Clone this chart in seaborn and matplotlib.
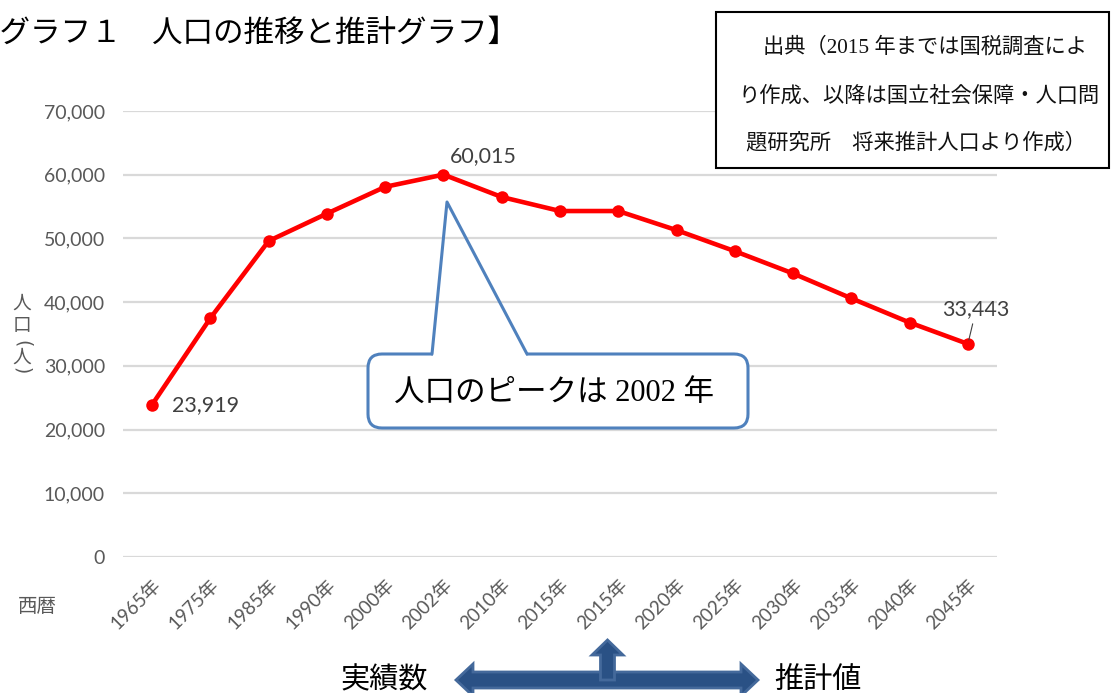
import matplotlib
matplotlib.use("Agg")
import matplotlib.pyplot as plt
import seaborn as sns
import pandas as pd
from matplotlib.patches import FancyBboxPatch, Rectangle, Polygon
from matplotlib.ticker import FuncFormatter

# data
years = ["1965年", "1975年", "1985年", "1990年", "2000年", "2002年", "2010年", "2015年",
         "2015年", "2020年", "2025年", "2030年", "2035年", "2040年", "2045年"]
population = [23919, 37500, 49600, 53900, 58100, 60015, 56500, 54300,
              54300, 51300, 48000, 44500, 40600, 36800, 33443]
y_ticks = [0, 10000, 20000, 30000, 40000, 50000, 60000, 70000]
labeled_points = [0, 5, 14]

title = "【グラフ１　人口の推移と推計グラフ】"
source_lines = ["出典（2015 年までは国税調査によ",
                "り作成、以降は国立社会保障・人口問",
                "題研究所　将来推計人口より作成）"]
callout_text = "人口のピークは 2002 年"

sns.set_theme(style="whitegrid")
plt.rcParams['font.family'] = ['Lato', 'Noto Sans CJK JP']

W, H = 1111, 693
fig = plt.figure(figsize=(W / 100, H / 100), dpi=100)
fig.patch.set_facecolor("white")

ax = fig.add_axes([123 / W, 1 - 557 / H, 874 / W, 446 / H])
ax.set_facecolor("white")

df = pd.DataFrame({"pos": range(len(years)), "population": population})
sns.lineplot(data=df, x="pos", y="population", ax=ax, color="#FF0000", linewidth=3.3,
             marker="o", markersize=9, markeredgecolor="#FF0000", markeredgewidth=0,
             zorder=3)

ax.set_xlim(-0.5, len(years) - 0.5)
ax.set_ylim(y_ticks[0], y_ticks[-1])
ax.set_yticks(y_ticks)
ax.yaxis.set_major_formatter(FuncFormatter(lambda v, p: f"{int(v):,}"))
ax.set_xticks(range(len(years)))
ax.set_xticklabels(years, rotation=45, ha="right", rotation_mode="anchor")
ax.grid(axis="y", color="#d9d9d9", linewidth=1.6)
ax.grid(axis="x", visible=False)
for s in ax.spines.values():
    s.set_visible(False)
ax.tick_params(axis="y", length=0, pad=13, labelsize=14, labelcolor="#595959")
ax.tick_params(axis="x", length=0, pad=14, labelsize=13.5, labelcolor="#595959")
ax.set_xlabel("")
ax.set_ylabel("")

# data labels
offsets = {0: (14, 0, "left", "center"), 5: (29, 13, "center", "center"), 14: (6, 25, "center", "center")}
for i in labeled_points:
    dx, dy, ha, va = offsets[i]
    arrow = dict(arrowstyle="-", color="#404040", lw=0.8, shrinkA=1, shrinkB=3) if i == 14 else None
    ax.annotate(f"{population[i]:,}", xy=(i, population[i]), xytext=(dx, dy),
                textcoords="offset points", ha=ha, va=va, fontsize=15.5,
                color="#404040", arrowprops=arrow)

# overlay for the decorations, in pixel units
ov = fig.add_axes([0, 0, 1, 1])
ov.set_xlim(0, W)
ov.set_ylim(H, 0)
ov.axis("off")
ov.set_zorder(3)

ov.text(518, 33, title, ha="right", va="center", fontsize=22, color="black",
        family=["Noto Sans CJK JP"])

ov.add_patch(Rectangle((716, 12), 393, 156, facecolor="white", edgecolor="black", lw=1.5))
for (x, y), line in zip([(763, 47), (738, 97), (746, 143)], source_lines):
    ov.text(x, y, line, ha="left", va="center", fontsize=15.3, color="#111111",
            family=["Liberation Serif", "Noto Sans CJK JP"])

# callout
blue = "#4F81BD"
ov.add_patch(FancyBboxPatch((368, 354), 380, 74, boxstyle="round,pad=0,rounding_size=14",
                            facecolor="white", edgecolor=blue, lw=2.2))
ov.plot([433, 526], [354, 354], color="white", lw=4, solid_capstyle="butt")
ov.plot([432, 447, 527], [354, 202, 354], color=blue, lw=2.2)
ov.text(554, 394, callout_text, ha="center", va="center", fontsize=22, color="black",
        family=["Liberation Serif", "Noto Sans CJK JP"])

# y axis label (vertical, parentheses turned)
grey = "#595959"
ov.text(22, 303, "人", ha="center", va="center", fontsize=13.5, color=grey,
        family=["Noto Sans CJK JP"])
ov.text(22, 326, "口", ha="center", va="center", fontsize=13.5, color=grey,
        family=["Noto Sans CJK JP"])
ov.text(22, 344, "(", ha="center", va="center", fontsize=13.5, color=grey,
        rotation=-90, family=["DejaVu Sans"])
ov.text(22, 357, "人", ha="center", va="center", fontsize=13.5, color=grey,
        family=["Noto Sans CJK JP"])
ov.text(22, 371, ")", ha="center", va="center", fontsize=13.5, color=grey,
        rotation=-90, family=["DejaVu Sans"])
ov.text(37, 607, "西暦", ha="center", va="center", fontsize=14, color=grey,
        family=["Noto Sans CJK JP"])

# bottom arrows
fill, edge = "#2A5185", "#44699B"
ov.add_patch(Polygon([(456, 680), (473, 664), (473, 672), (741, 672), (741, 664), (758, 680),
                      (741, 696), (741, 688), (473, 688), (473, 696)],
                     closed=True, facecolor=fill, edgecolor=edge, lw=2))
ov.add_patch(Polygon([(600.5, 680), (600.5, 655), (592, 655), (607.5, 640), (623, 655),
                      (614.5, 655), (614.5, 680)],
                     closed=True, facecolor=fill, edgecolor=edge, lw=2))
ov.text(384, 680, "実績数", ha="center", va="center", fontsize=21, color="black",
        family=["Noto Sans CJK JP"])
ov.text(818, 680, "推計値", ha="center", va="center", fontsize=21, color="black",
        family=["Noto Sans CJK JP"])

fig.savefig("out.png", dpi=100, facecolor="white")
